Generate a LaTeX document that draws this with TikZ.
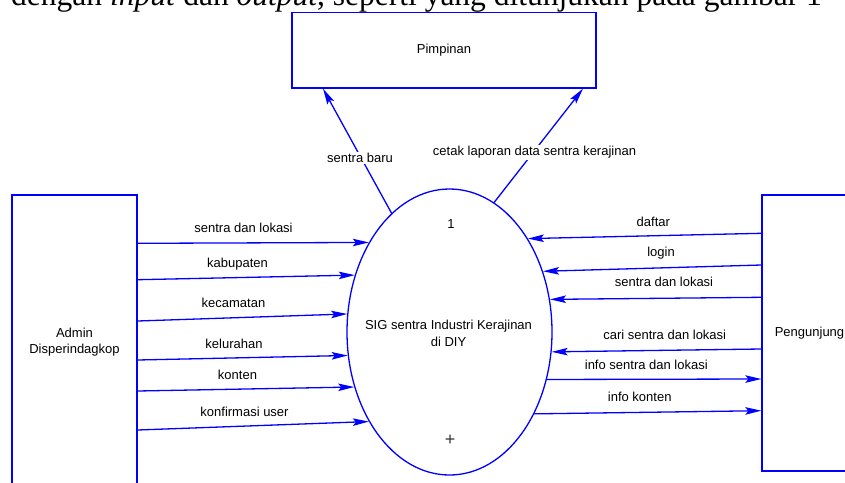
\documentclass[tikz,border=0pt]{standalone}
\usepackage{fontspec}
\setmainfont{Liberation Sans}
\newfontfamily\docserif{Liberation Serif}
\usetikzlibrary{arrows.meta,shapes.geometric}
\definecolor{flowblue}{RGB}{0,0,255}
\newcommand\diafont{\fontsize{13}{16.5}\selectfont}
\begin{document}
\begin{tikzpicture}[x=1pt,y=-1pt,
  blu/.style={draw=flowblue, line width=1.3pt},
  entity/.style={blu, rectangle, inner sep=0pt, align=center, font=\diafont},
  flow/.style={blu, -{Stealth[length=16pt,width=7.5pt,inset=3pt]}},
  lbl/.style={inner sep=1.5pt, anchor=base, fill=white, font=\diafont},
]
\useasboundingbox (0,0) rectangle (845,482);

% cropped document line above the figure
\node[inner sep=0pt, anchor=base west, font=\docserif\fontsize{31.5}{36}\selectfont] (hdr) at (11,5)
  {dengan \textit{input} dan \textit{output}, seperti yang ditunjukan pada gambar 1};

% entities
\node[entity, minimum width=304pt, minimum height=75.5pt] (pim) at (444,50.25) {Pimpinan};
\node[entity, minimum width=125pt, minimum height=294pt] (adm) at (74.5,342) {Admin\\Disperindagkop};
\node[entity, minimum width=95pt, minimum height=276pt] (pen) at (809.5,333) {Pengunjung};

% process
\node[blu, ellipse, minimum width=205pt, minimum height=286pt, inner sep=0pt] (proc) at (449.5,332) {};
\node[lbl, anchor=center, align=center, fill=none] (ptxt) at (448.5,333.5) {SIG sentra Industri Kerajinan\\di DIY};
\node[lbl, fill=none] (pnum) at (451,228) {1};
\node[lbl, fill=none, font=\fontsize{18}{20}\selectfont, text=black!80] (pplus) at (450,445) {+};

% flows from Admin
\draw[flow] ([yshift=98.7pt]adm.east) -- (proc.132.7);
\draw[flow] ([yshift=62.3pt]adm.east) -- (proc.149.2);
\draw[flow] ([yshift=21pt]adm.east) -- (proc.170.6);
\draw[flow] ([yshift=-18pt]adm.east) -- (proc.193.7);
\draw[flow] ([yshift=-49pt]adm.east) -- (proc.210.8);
\draw[flow] ([yshift=-88pt]adm.east) -- (proc.228.2);

\node[lbl] (l1) at (243.5,232.8) {sentra dan lokasi};
\node[lbl] (l2) at (237.5,267.8) {kabupaten};
\node[lbl] (l3) at (233.5,307.8) {kecamatan};
\node[lbl] (l4) at (234,348.8) {kelurahan};
\node[lbl] (l5) at (237.5,379.5) {konten};
\node[lbl] (l6) at (244.5,416.8) {konfirmasi user};

% flows with Pengunjung
\draw[flow] ([yshift=99.7pt]pen.west) -- (proc.50.7);
\draw[flow] ([yshift=68pt]pen.west) -- (proc.33.8);
\draw[flow] ([yshift=35.7pt]pen.west) -- (proc.18.9);
\draw[flow] ([yshift=-16pt]pen.west) -- (proc.-11.1);
\draw[flow] (proc.-26.1) -- ([yshift=-46pt]pen.west);
\draw[flow] (proc.-44.2) -- ([yshift=-77.7pt]pen.west);

\node[lbl] (r1) at (653.3,226.2) {daftar};
\node[lbl] (r2) at (661,256) {login};
\node[lbl] (r3) at (664,286.8) {sentra dan lokasi};
\node[lbl] (r4) at (664.7,339.5) {cari sentra dan lokasi};
\node[lbl] (r5) at (646.3,369.5) {info sentra dan lokasi};
\node[lbl] (r6) at (639.7,401.8) {info konten};

% flows to Pimpinan
\draw[flow] (proc.116.6) -- ([xshift=-121pt]pim.south);
\draw[flow] (proc.71.9) -- ([xshift=139pt]pim.south);

\node[lbl] (t1) at (360,162.8) {sentra baru};
\node[lbl] (t2) at (534.5,155.5) {cetak laporan data sentra kerajinan};
\end{tikzpicture}
\end{document}
